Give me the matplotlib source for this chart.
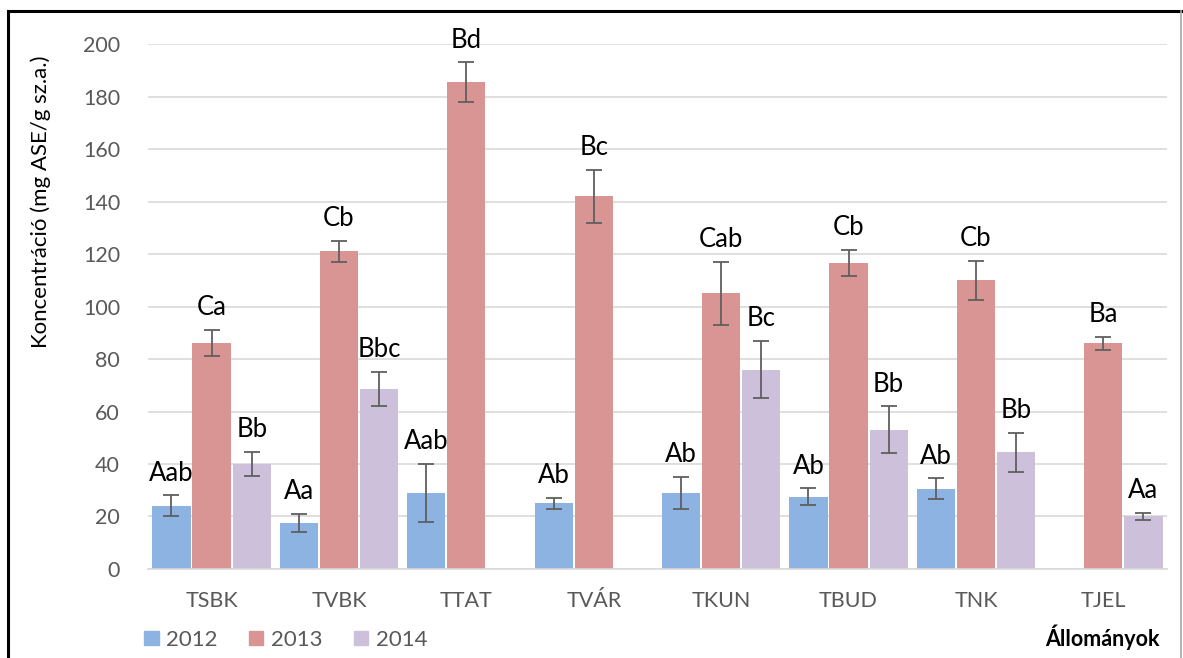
import numpy as np
import matplotlib.pyplot as plt
from matplotlib.patches import Rectangle
from matplotlib.lines import Line2D

plt.rcParams['font.family'] = ['Lato', 'DejaVu Sans']

allomanyok = ['TSBK', 'TVBK', 'TTAT', 'TVÁR', 'TKUN', 'TBUD', 'TNK', 'TJEL']
evek = ['2012', '2013', '2014']

v2012 = [24, 17.5, 29, 25, 29, 27.5, 30.5, np.nan]
v2013 = [86, 121, 185.5, 142, 105, 116.5, 110, 86]
v2014 = [40, 68.5, np.nan, np.nan, 76, 53, 44.5, 20]

e2012 = [4, 3.5, 11, 2, 6, 3.2, 4, np.nan]
e2013 = [5, 4, 7.5, 10, 12, 5, 7.5, 2.5]
e2014 = [4.5, 6.5, np.nan, np.nan, 11, 9, 7.5, 1.5]

l2012 = ['Aab', 'Aa', 'Aab', 'Ab', 'Ab', 'Ab', 'Ab', None]
l2013 = ['Ca', 'Cb', 'Bd', 'Bc', 'Cab', 'Cb', 'Cb', 'Ba']
l2014 = ['Bb', 'Bbc', None, None, 'Bc', 'Bb', 'Bb', 'Aa']

colors = ['#8DB3E2', '#D99594', '#CCC0DA']

fig = plt.figure(figsize=(11.83, 6.58), dpi=100)
ax = fig.add_axes([0.125, 0.1353, 0.8615, 0.7977])

x = np.arange(len(allomanyok))
w = 0.30
offs = [-0.315, 0, 0.315]
series = [(v2012, e2012, l2012), (v2013, e2013, l2013), (v2014, e2014, l2014)]

for i, (vals, errs, labs) in enumerate(series):
    ax.bar(x + offs[i], vals, w, color=colors[i], zorder=2)
    ax.errorbar(x + offs[i], vals, yerr=errs, fmt='none', ecolor='#5F5F5F',
                elinewidth=1.3, capsize=6, capthick=1.3, zorder=3)
    for j in range(len(allomanyok)):
        if labs[j] is None:
            continue
        ax.annotate(labs[j], (x[j] + offs[i], vals[j] + errs[j]),
                    xytext=(0, 7), textcoords='offset points',
                    ha='center', va='bottom', fontsize=18.5, color='black',
                    annotation_clip=False)

ax.set_xlim(-0.5, len(allomanyok) - 0.5)
ax.set_ylim(0, 200)
ax.set_yticks(range(0, 201, 20))
ax.set_xticks(x)
ax.set_xticklabels(allomanyok)
ax.tick_params(axis='both', length=0, labelsize=15.5, labelcolor='#595959')
ax.tick_params(axis='x', pad=16)
ax.tick_params(axis='y', pad=20)
ax.grid(axis='y', color='#D9D9D9', linewidth=1.2, zorder=0)
ax.set_axisbelow(True)
for s in ['top', 'right', 'left']:
    ax.spines[s].set_visible(False)
ax.spines['bottom'].set_color('#D9D9D9')
ax.spines['bottom'].set_linewidth(1.2)

ax.set_ylabel('Koncentráció (mg ASE/g sz.a.)', fontsize=16, color='black')
ax.yaxis.set_label_coords(-0.095, 0.70)

# legend in lower left
handles = [Rectangle((0, 0), 1, 1, color=c) for c in colors]
fig.legend(handles, evek, loc='lower left', bbox_to_anchor=(0.105, -0.018), ncol=3,
           frameon=False, fontsize=16, handlelength=0.65, handleheight=0.65,
           columnspacing=1.4, handletextpad=0.35, labelcolor='#595959')

fig.text(0.98, 0.032, 'Állományok', ha='right', va='center', fontsize=15.5, fontweight='bold')

# frame around the figure
fig.add_artist(Line2D([0.0068, 0.0068], [0, 0.984], color='black', linewidth=2.2, transform=fig.transFigure))
fig.add_artist(Line2D([0.0068, 0.9985], [0.984, 0.984], color='black', linewidth=2.2, transform=fig.transFigure))
fig.add_artist(Line2D([0.9985, 0.9985], [0, 0.984], color='#A6A6A6', linewidth=1.2, transform=fig.transFigure))

fig.savefig('out.png', dpi=100)
